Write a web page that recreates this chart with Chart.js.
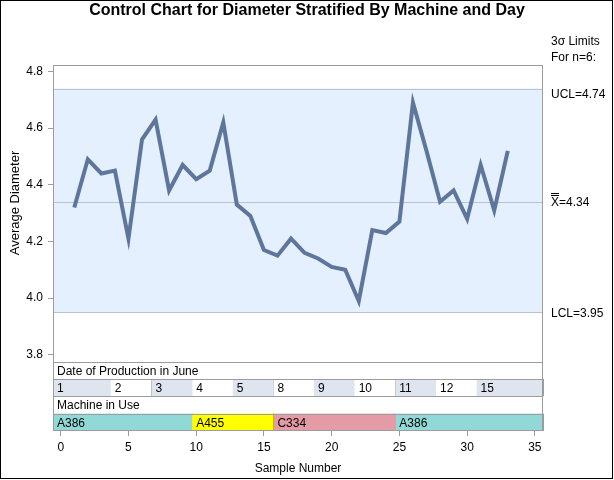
<!DOCTYPE html>
<html>
<head>
<meta charset="utf-8">
<script src="https://cdn.jsdelivr.net/npm/chart.js@4.4.0/dist/chart.umd.min.js"></script>
<style>
  body { margin: 0; background: #fff; }
</style>
</head>
<body>
<canvas id="controlChart" width="614" height="480"></canvas>
<script>
// Get the canvas element
var ctx = document.getElementById('controlChart').getContext('2d');

// subgroup means, samples 1..33
let diameters = [4.32, 4.49, 4.44, 4.45, 4.21, 4.56, 4.63, 4.38, 4.47, 4.42, 4.45,
  4.62, 4.33, 4.29, 4.17, 4.15, 4.21, 4.16, 4.14, 4.11, 4.10, 3.99, 4.24, 4.23,
  4.27, 4.69, 4.52, 4.34, 4.38, 4.28, 4.47, 4.31, 4.52];
let limits = { ucl: 4.74, mean: 4.34, lcl: 3.95 };

let dayLabels = ['1', '2', '3', '4', '5', '8', '9', '10', '11', '12', '15'];
let daySizes = [3, 3, 3, 3, 3, 3, 3, 3, 3, 3, 3];
let machineLabels = ['A386', 'A455', 'C334', 'A386'];
let machineSizes = [9, 6, 9, 9];

let yTicks = [3.8, 4.0, 4.2, 4.4, 4.6, 4.8];
let xTicks = [0, 5, 10, 15, 20, 25, 30, 35];

let machineColors = { A386: '#91d9d6', A455: '#ffff00', C334: '#e49ba6' };
let dayColors = ['#dfe5ee', '#ffffff'];
const font = '"Liberation Sans", Arial, sans-serif';
const frameColor = '#9c9c9c';
const dataBottom = 3.776;   // bottom of the plot region, blocks sit below it
const edgeShift = 0.7;      // block edges fall just after the last sample

let points = diameters.map((v, i) => ({ x: i + 1, y: v }));

const controlPlugin = {
  id: 'controlPlugin',
  beforeDatasetsDraw(chart) {
    const { ctx, chartArea: a, scales: { y } } = chart;
    let yU = y.getPixelForValue(limits.ucl);
    let yC = y.getPixelForValue(limits.mean);
    let yL = y.getPixelForValue(limits.lcl);
    ctx.save();
    ctx.fillStyle = '#e4f0fe';
    ctx.fillRect(a.left, yU, a.width, yL - yU);
    ctx.strokeStyle = '#b7c2d6';
    ctx.lineWidth = 1;
    [yU, yC, yL].forEach(p => {
      let py = Math.round(p) + 0.5;
      ctx.beginPath();
      ctx.moveTo(a.left, py);
      ctx.lineTo(a.right, py);
      ctx.stroke();
    });
    ctx.restore();
  },
  afterDraw(chart) {
    const { ctx, chartArea: a, scales: { x, y } } = chart;
    let top = y.getPixelForValue(dataBottom);
    let rowH = (a.bottom - top) / 4;
    let rows = [top, top + rowH, top + 2 * rowH, top + 3 * rowH, a.bottom];
    ctx.save();
    ctx.font = '12px ' + font;
    ctx.textBaseline = 'middle';

    // block area background
    ctx.fillStyle = '#fff';
    ctx.fillRect(a.left, rows[0], a.width, a.bottom - rows[0]);

    // day cells
    let start = 0;
    let left = a.left;
    daySizes.forEach((n, i) => {
      start += n;
      let right = i === daySizes.length - 1 ? a.right : x.getPixelForValue(start + edgeShift);
      ctx.fillStyle = dayColors[i % 2];
      ctx.fillRect(left, rows[1], right - left, rowH);
      ctx.strokeStyle = frameColor;
      ctx.beginPath();
      ctx.moveTo(Math.round(right) + 0.5, rows[1]);
      ctx.lineTo(Math.round(right) + 0.5, rows[2]);
      ctx.stroke();
      ctx.fillStyle = '#000';
      ctx.fillText(dayLabels[i], left + 4, rows[1] + rowH / 2 + 1);
      left = right;
    });

    // machine cells
    start = 0;
    left = a.left;
    machineSizes.forEach((n, i) => {
      start += n;
      let right = i === machineSizes.length - 1 ? a.right : x.getPixelForValue(start + edgeShift);
      ctx.fillStyle = machineColors[machineLabels[i]];
      ctx.fillRect(left, rows[3], right - left, rowH);
      ctx.strokeStyle = frameColor;
      ctx.beginPath();
      ctx.moveTo(Math.round(right) + 0.5, rows[3]);
      ctx.lineTo(Math.round(right) + 0.5, rows[4]);
      ctx.stroke();
      ctx.fillStyle = '#000';
      ctx.fillText(machineLabels[i], left + 4, rows[3] + rowH / 2 + 1);
      left = right;
    });

    ctx.fillStyle = '#000';
    ctx.fillText('Date of Production in June', a.left + 4, rows[0] + rowH / 2 + 1);
    ctx.fillText('Machine in Use', a.left + 4, rows[2] + rowH / 2 + 1);

    // row lines and frame
    ctx.strokeStyle = frameColor;
    ctx.lineWidth = 1;
    rows.slice(0, 4).forEach(r => {
      let py = Math.round(r) + 0.5;
      ctx.beginPath();
      ctx.moveTo(a.left, py);
      ctx.lineTo(a.right, py);
      ctx.stroke();
    });
    ctx.strokeRect(Math.round(a.left) + 0.5, Math.round(a.top) + 0.5,
      Math.round(a.width) - 1, Math.round(a.height) - 1);

    // limit labels
    let tx = a.right + 8;
    ctx.fillText('3\u03c3 Limits', tx, 42);
    ctx.fillText('For n=6:', tx, 58);
    ctx.fillText('UCL=' + limits.ucl.toFixed(2), tx, y.getPixelForValue(limits.ucl) + 6);
    ctx.fillText('LCL=' + limits.lcl.toFixed(2), tx, y.getPixelForValue(limits.lcl) + 1);
    let yc = y.getPixelForValue(limits.mean) + 1;
    ctx.fillText('X=' + limits.mean.toFixed(2), tx, yc);
    let xw = ctx.measureText('X').width;
    ctx.strokeStyle = '#000';
    ctx.beginPath();
    ctx.moveTo(tx, Math.round(yc) - 7.5);
    ctx.lineTo(tx + xw, Math.round(yc) - 7.5);
    ctx.moveTo(tx, Math.round(yc) - 9.5);
    ctx.lineTo(tx + xw, Math.round(yc) - 9.5);
    ctx.stroke();

    // y axis title, centred on the plot region
    ctx.save();
    ctx.font = '13px ' + font;
    ctx.translate(15, 203);
    ctx.rotate(-Math.PI / 2);
    ctx.textAlign = 'center';
    ctx.fillText('Average Diameter', 0, 0);
    ctx.restore();

    // outer border
    ctx.strokeStyle = '#000';
    ctx.strokeRect(0.5, 0.5, 612, 478);
    ctx.restore();
  }
};

new Chart(ctx, {
  type: 'line',
  data: {
    datasets: [{
      data: points,
      borderColor: '#5e769c',
      borderWidth: 4,
      pointRadius: 0,
      tension: 0,
      fill: false
    }]
  },
  options: {
    responsive: false,
    animation: false,
    layout: { padding: 0 },
    plugins: {
      legend: { display: false },
      tooltip: { enabled: false },
      title: {
        display: true,
        text: 'Control Chart for Diameter Stratified By Machine and Day',
        color: '#000',
        font: { family: font, size: 16, weight: 'bold' },
        padding: { top: 1, bottom: 44.8 }
      }
    },
    scales: {
      x: {
        type: 'linear',
        min: -0.57,
        max: 35.6,
        afterFit: s => { s.height = 49; },
        afterBuildTicks: s => { s.ticks = xTicks.map(v => ({ value: v })); },
        border: { display: false },
        grid: { drawOnChartArea: false, tickLength: 5, color: frameColor },
        ticks: { color: '#000', padding: 4, maxRotation: 0, font: { family: font, size: 12 } },
        title: {
          display: true, text: 'Sample Number', color: '#000',
          font: { family: font, size: 12 }, padding: { top: 0, bottom: 4 }
        }
      },
      y: {
        min: 3.531,
        max: 4.823,
        afterFit: s => { s.width = 53; },
        afterBuildTicks: s => { s.ticks = yTicks.map(v => ({ value: v })); },
        border: { display: false },
        grid: { drawOnChartArea: false, tickLength: 5, color: frameColor },
        ticks: {
          color: '#000', padding: 5, font: { family: font, size: 12 },
          callback: v => v.toFixed(1)
        }
      },
      // empty right margin that holds the limit labels
      side: {
        position: 'right',
        afterFit: s => { s.width = 71; },
        border: { display: false },
        grid: { display: false },
        ticks: { display: false }
      }
    }
  },
  plugins: [controlPlugin]
});
</script>
</body>
</html>
